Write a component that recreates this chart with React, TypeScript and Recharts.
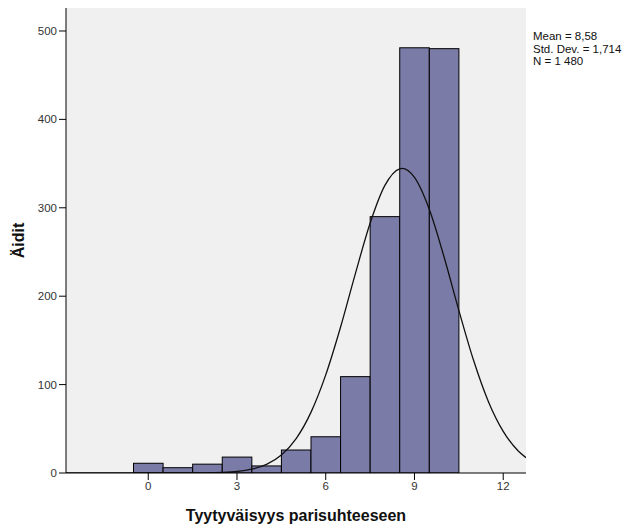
import { ComposedChart, Bar, Line, XAxis, YAxis, CartesianGrid, Label } from 'recharts'

// histogram bins (score 0..10) and counts
const scores = [0, 1, 2, 3, 4, 5, 6, 7, 8, 9, 10]
const counts = [11, 6, 10, 18, 8, 26, 41, 109, 290, 481, 480]

// normal curve as drawn over the bars
const curveX = [-2.78, 0, 1, 2, 2.5, 3, 3.5, 4, 4.5, 5, 5.5, 6, 6.5, 7, 7.5, 8, 8.5, 8.58, 9, 9.5, 10, 10.5, 11, 11.5, 12, 12.5, 12.77]
const curveY = [0, 0, 0.02, 0.2, 0.6, 1.7, 4.3, 9.7, 20.3, 38.9, 68.6, 111, 164.9, 225.3, 282.5, 325.3, 344.1, 344.5, 334.3, 298.3, 244.4, 184, 127.2, 80.7, 47.1, 25.2, 17.3]

const xTicks = [0, 3, 6, 9, 12]
const yTicks = [0, 100, 200, 300, 400, 500]
const stats = ['Mean = 8,58', 'Std. Dev. = 1,714', 'N = 1 480']

const bars = scores.map((s, i) => ({ x: s, count: counts[i] }))
const curve = curveX.map((x, i) => ({ x, fit: curveY[i] }))

const font = 'Arial, "Liberation Sans", sans-serif'
const X_DOMAIN: [number, number] = [-2.78, 12.77]
const PLOT_W = 460
const BIN_PX = PLOT_W / (X_DOMAIN[1] - X_DOMAIN[0]) // one score unit in px

const BinRect = (p: any) => {
  const cx = p.x + p.width / 2
  return <rect x={cx - BIN_PX / 2} y={p.y} width={BIN_PX} height={p.height} fill="#7b7ba8" stroke="#000" strokeWidth={1} />
}

export default function App() {
  return (
    <div style={{ position: 'absolute', left: 0, top: 0, width: 631, height: 528, background: '#fff', fontFamily: font }}>
      <ComposedChart width={631} height={528} data={bars} margin={{ top: 8, right: 105, bottom: 25, left: 6 }}>
        <CartesianGrid horizontal={false} vertical={false} fill="#f0f0f0" />
        <XAxis
          dataKey="x"
          type="number"
          domain={X_DOMAIN}
          ticks={xTicks}
          allowDataOverflow
          stroke="#000"
          tickSize={7}
          tick={{ fill: '#333', fontSize: 11.5, fontFamily: font }}
          height={30}
        >
          <Label value="Tyytyväisyys parisuhteeseen" position="insideBottom" offset={-18} style={{ fontSize: 16, fontWeight: 'bold', fill: '#111', fontFamily: font }} />
        </XAxis>
        <XAxis xAxisId="top" orientation="top" type="number" domain={X_DOMAIN} tick={false} tickLine={false} stroke="#999" height={0} />
        <YAxis
          type="number"
          domain={[0, 526]}
          ticks={yTicks}
          allowDataOverflow
          stroke="#000"
          tickSize={7}
          tick={{ fill: '#333', fontSize: 11.5, fontFamily: font }}
          width={60}
        >
          <Label value="Äidit" angle={-90} position="insideLeft" offset={12} style={{ fontSize: 16, fontWeight: 'bold', fill: '#111', fontFamily: font, textAnchor: 'middle' }} />
        </YAxis>
        <YAxis yAxisId="right" orientation="right" domain={[0, 526]} tick={false} tickLine={false} stroke="#999" width={0} />
        <Bar dataKey="count" shape={BinRect} isAnimationActive={false} />
        <Line data={curve} dataKey="fit" type="monotone" stroke="#111" strokeWidth={1.3} dot={false} activeDot={false} isAnimationActive={false} />
      </ComposedChart>
      {stats.map((s, i) => (
        <div key={s} style={{ position: 'absolute', left: 533, top: 30 + i * 12.5, fontSize: 11.5, lineHeight: '12.5px', color: '#111', fontFamily: font, whiteSpace: 'nowrap' }}>
          {s}
        </div>
      ))}
    </div>
  )
}
